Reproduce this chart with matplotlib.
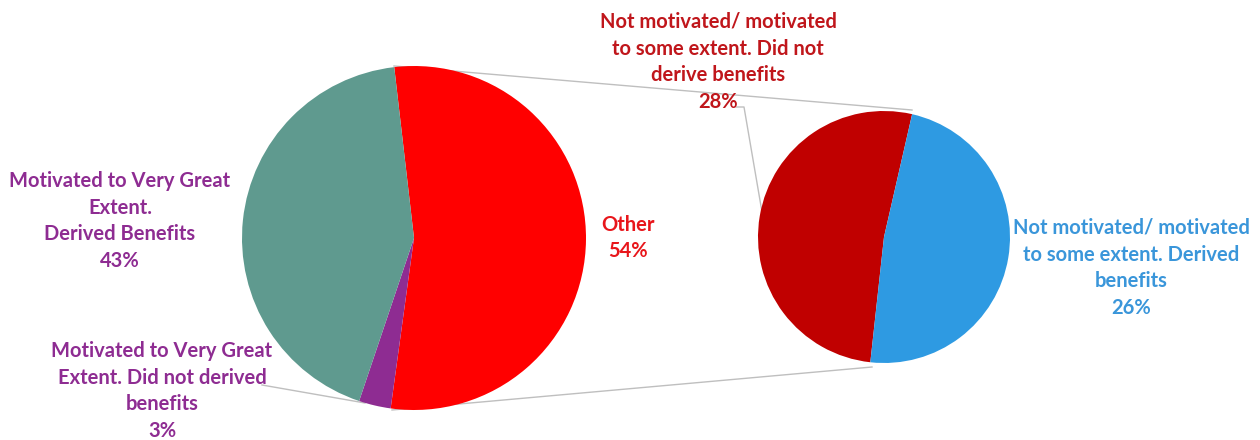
import matplotlib
matplotlib.use("Agg")
from matplotlib import pyplot as plt

# main pie
main_labels = ['Other', 'Motivated to Very Great Extent. Did not derived benefits',
               'Motivated to Very Great Extent.\nDerived Benefits']
main_values = [54, 3, 43]
main_colors = ['#FF0000', '#8E2C92', '#5F9A8F']

# secondary pie (breakdown of "Other")
sub_labels = ['Not motivated/ motivated to some extent. Did not derive benefits',
              'Not motivated/ motivated to some extent. Derived benefits']
sub_values = [28, 26]
sub_colors = ['#C00000', '#2E9AE2']

H = 440
plt.rcParams['font.family'] = ['Lato', 'DejaVu Sans']

fig = plt.figure(figsize=(12.6, 4.4), dpi=100)
ax = fig.add_axes([0, 0, 1, 1])

c1, r1 = (414, H - 238), 172
c2, r2 = (884, H - 237), 126

w1, _ = ax.pie(main_values, colors=main_colors, startangle=96.6, counterclock=False,
               center=c1, radius=r1, frame=True, wedgeprops=dict(linewidth=0))
w2, _ = ax.pie(sub_values, colors=sub_colors, startangle=77.1, counterclock=True,
               center=c2, radius=r2, frame=True, wedgeprops=dict(linewidth=0))
ax.set_xlim(0, 1260)
ax.set_ylim(0, H)
ax.set_aspect('equal')
ax.axis('off')

# connector lines between the pies
line_kw = dict(color='#BFBFBF', lw=1.0, zorder=0)
ax.plot([394, 912], [H - 66, H - 110], **line_kw)
ax.plot([392, 872], [H - 410, H - 367], **line_kw)

# leader lines
ax.plot([736, 744, 762], [H - 107, H - 107, H - 212], **line_kw)
ax.plot([262, 365], [H - 385, H - 403], **line_kw)

txt = dict(ha='center', va='center', fontsize=14.5, fontweight='bold', linespacing=1.42)
ax.text(120, H - 221, 'Motivated to Very Great\nExtent.\nDerived Benefits\n43%',
        color='#8E2C92', **txt)
ax.text(162, H - 391, 'Motivated to Very Great\nExtent. Did not derived\nbenefits\n3%',
        color='#8E2C92', **txt)
ax.text(628, H - 238, 'Other\n54%', color='#E8161B', **txt)
ax.text(718, H - 62, 'Not motivated/ motivated\nto some extent. Did not\nderive benefits\n28%',
        color='#C0161B', **txt)
ax.text(1131, H - 268, 'Not motivated/ motivated\nto some extent. Derived\nbenefits\n26%',
        color='#3A96DA', **txt)

fig.savefig('out.png', dpi=100)
